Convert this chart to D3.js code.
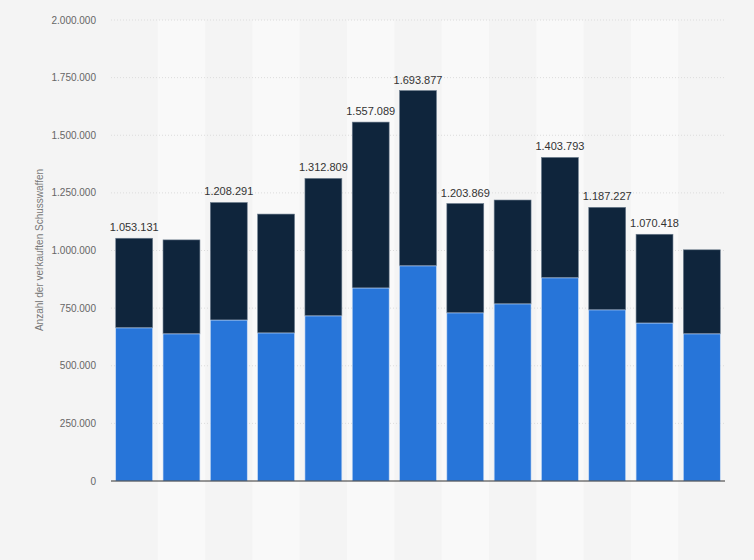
<!DOCTYPE html>
<html><head><meta charset="utf-8">
<script src="https://cdn.jsdelivr.net/npm/d3@7"></script>
<style>body{margin:0;background:#f4f4f4}</style></head>
<body><svg id="c" width="754" height="560"></svg>
<script>
const categories = ["1","2","3","4","5","6","7","8","9","10","11","12","13"];
const lower = [664000,638000,698000,642000,716000,837000,933000,729000,768000,881000,742000,685000,638000];
const totals = [1053131,1046000,1208291,1158000,1312809,1557089,1693877,1203869,1219000,1403793,1187227,1070418,1003000];
const labels = ["1.053.131","","1.208.291","","1.312.809","1.557.089","1.693.877","1.203.869","","1.403.793","1.187.227","1.070.418",""];
const yTicks = [0,250000,500000,750000,1000000,1250000,1500000,1750000,2000000];

const svg = d3.select("#c");
svg.append("rect").attr("width",754).attr("height",560).attr("fill","#f4f4f4");
const x = d3.scaleBand().domain(categories).range([111,725]).paddingInner(0.22).paddingOuter(0.1);
const y = d3.scaleLinear().domain([0,2000000]).range([481,20]);
const step = x.step();
categories.forEach((c,i)=>{
  if(i%2===1) svg.append("rect").attr("x",x(c)-x.paddingInner()*step/2).attr("y",20).attr("width",step).attr("height",540).attr("fill","#f9f9f9");
});
const fmt = v => d3.format(",")(v).replace(/,/g,".");
yTicks.forEach(t=>{
  if(t>0) svg.append("line").attr("x1",111).attr("x2",725).attr("y1",y(t)).attr("y2",y(t)).attr("stroke","#dcdcdc").attr("stroke-dasharray","1,2");
  svg.append("text").attr("x",96).attr("y",y(t)+3.5).attr("text-anchor","end").attr("font-family","Liberation Sans, Arial").attr("font-size",10).attr("fill","#666").text(fmt(t));
});
svg.append("text").attr("transform","translate(43,250) rotate(-90)").attr("text-anchor","middle").attr("font-family","Liberation Sans, Arial").attr("font-size",10).attr("fill","#777").text("Anzahl der verkauften Schusswaffen");
const g = svg.append("g");
g.selectAll(".top").data(categories).join("rect").attr("x",d=>x(d)).attr("width",x.bandwidth())
 .attr("y",(d,i)=>y(totals[i])).attr("height",(d,i)=>y(lower[i])-y(totals[i])).attr("fill","#0f253c").attr("stroke","#6d7d8e").attr("stroke-width",0.6);
g.selectAll(".bot").data(categories).join("rect").attr("x",d=>x(d)).attr("width",x.bandwidth())
 .attr("y",(d,i)=>y(lower[i])).attr("height",(d,i)=>481-y(lower[i])).attr("fill","#2775d9").attr("stroke","#c9dcf5").attr("stroke-width",0.6);
g.selectAll(".lbl").data(categories).join("text").attr("x",d=>x(d)+x.bandwidth()/2).attr("y",(d,i)=>y(totals[i])-7)
 .attr("text-anchor","middle").attr("font-family","Liberation Sans, Arial").attr("font-size",11).attr("fill","#333").text((d,i)=>labels[i]);
svg.append("line").attr("x1",111).attr("x2",725).attr("y1",481).attr("y2",481).attr("stroke","#333").attr("stroke-width",1);
</script></body></html>
